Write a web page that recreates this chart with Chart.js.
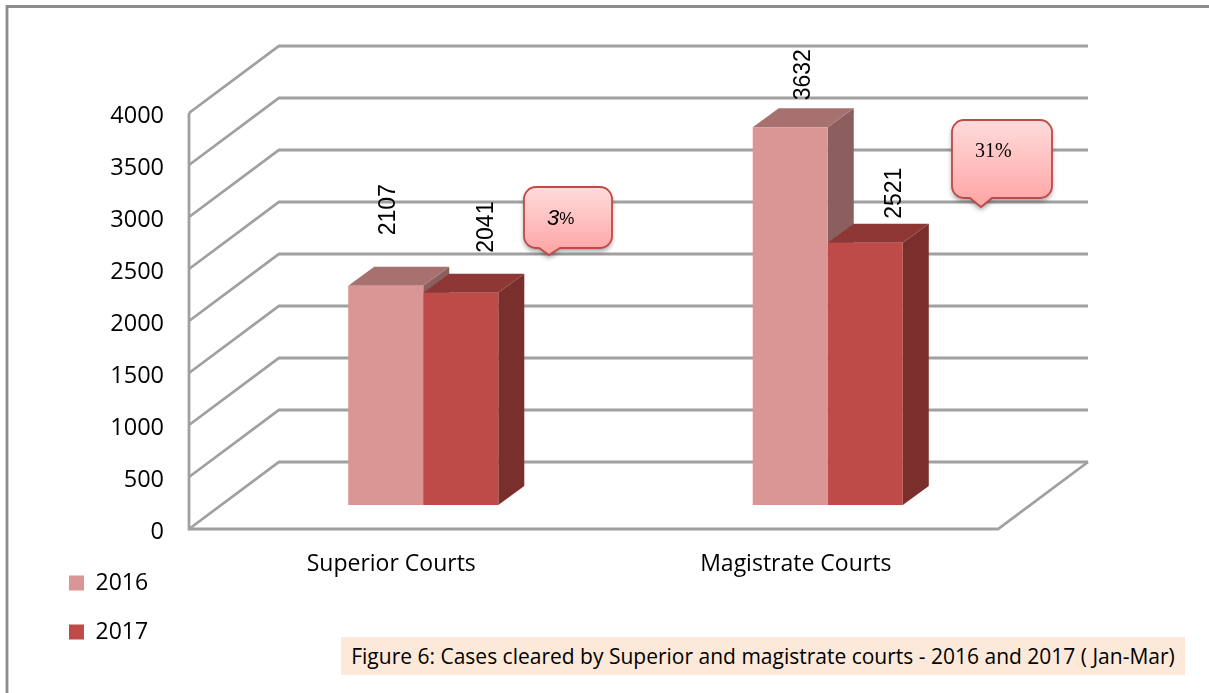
<!DOCTYPE html>
<html><head><meta charset="utf-8">
<style>
html,body{margin:0;padding:0;background:#fff;overflow:hidden}
#wrap{position:relative;width:1209px;height:693px}
canvas{position:absolute;left:0;top:0}
#caption{position:absolute;left:341px;top:637px;width:844px;height:38px;background:#FDE9D9;color:#000;font:21px "Open Sans",sans-serif;line-height:39px;text-align:center;white-space:nowrap}
</style></head><body>
<div id="wrap"><canvas id="c" width="1209" height="693"></canvas>
<div id="caption">Figure 6: Cases cleared by Superior and magistrate courts - 2016 and 2017 ( Jan-Mar)</div></div>
<script src="https://cdn.jsdelivr.net/npm/chart.js@4"></script>
<script>
const categories = ["Superior Courts", "Magistrate Courts"];
const series2016 = [2107, 3632];
const series2017 = [2041, 2521];
const yearLabels = ["2016", "2017"];
const yTicksStep = 500;
const callouts = [
  {parts:[{t:"3",f:'italic 22px "Liberation Sans"'},{t:"%",f:'17px "Liberation Sans"'}],x:524,y:187,w:88,h:61,tail:[539,560,549,255],tx:547,ty:219},
  {parts:[{t:"31%",f:'20px "Liberation Serif"'}],x:952,y:120,w:100,h:78,tail:[970,992,981,207],tx:975,ty:152}
];
const labelOffsets = [[[3,-50.5],[26,-40]],[[13,-27],[29,-24]]];
const WALL = {dx:90, dy:-67}, BAR_SHIFT = {dx:32, dy:-24}, DEPTH = {dx:26, dy:-19};
const styles = [{front:"#D99694",top:"#A6716F",side:"#8B5F5E"},{front:"#BE4B48",top:"#8F3735",side:"#7B2F2D"}];
const GRID = "#A0A0A0";
const FRAME = "#8C8C8C";
const font = '"Open Sans"';

const scene = {
  id:"scene",
  afterLayout(chart){
    const l = chart.legend; if(!l) return;
    l.left=43; l.top=545.5; l.right=200; l.bottom=900;
  },
  beforeDatasetsDraw(chart){
    const {ctx,scales:{y},chartArea:a} = chart;
    ctx.save();
    ctx.lineJoin="miter"; ctx.lineWidth=2.8;
    // page frame
    ctx.strokeStyle=FRAME;
    ctx.beginPath(); ctx.moveTo(7,693); ctx.lineTo(7,6.5); ctx.lineTo(1209,6.5); ctx.stroke();
    // walls
    ctx.strokeStyle=GRID;
    y.ticks.forEach(t=>{
      const py=y.getPixelForValue(t.value);
      ctx.beginPath(); ctx.moveTo(a.left,py); ctx.lineTo(a.left+WALL.dx,py+WALL.dy); ctx.lineTo(a.right+WALL.dx,py+WALL.dy); ctx.stroke();
    });
    ctx.beginPath(); ctx.moveTo(a.left,y.getPixelForValue(4000)); ctx.lineTo(a.left,a.bottom); ctx.lineTo(a.right,a.bottom); ctx.lineTo(a.right+WALL.dx,a.bottom+WALL.dy); ctx.stroke();
    // extrusions
    chart.data.datasets.forEach((d,i)=>{
      chart.getDatasetMeta(i).data.forEach(b=>{
        const L=b.x-b.width/2+BAR_SHIFT.dx,R=b.x+b.width/2+BAR_SHIFT.dx,T=b.y+BAR_SHIFT.dy,B=b.base+BAR_SHIFT.dy;
        ctx.fillStyle=styles[i].side;
        ctx.beginPath();ctx.moveTo(R,T);ctx.lineTo(R+DEPTH.dx,T+DEPTH.dy);ctx.lineTo(R+DEPTH.dx,B+DEPTH.dy);ctx.lineTo(R,B);ctx.closePath();ctx.fill();
        ctx.fillStyle=styles[i].top;
        ctx.beginPath();ctx.moveTo(L,T);ctx.lineTo(L+DEPTH.dx,T+DEPTH.dy);ctx.lineTo(R+DEPTH.dx,T+DEPTH.dy);ctx.lineTo(R,T);ctx.closePath();ctx.fill();
      });
    });
    ctx.restore();
    ctx.save(); ctx.translate(BAR_SHIFT.dx,BAR_SHIFT.dy);
  },
  afterDatasetsDraw(chart){
    const {ctx}=chart;
    ctx.restore();
    // value labels
    ctx.save();
    ctx.fillStyle="#000"; ctx.font='23px "Liberation Sans"'; ctx.textAlign="left"; ctx.textBaseline="middle";
    chart.data.datasets.forEach((d,i)=>{
      chart.getDatasetMeta(i).data.forEach((b,j)=>{
        const o=labelOffsets[j][i];
        ctx.save();
        ctx.translate(b.x+BAR_SHIFT.dx+o[0],b.y+BAR_SHIFT.dy+o[1]);
        ctx.rotate(-Math.PI/2);
        ctx.fillText(String(d.data[j]),0,0);
        ctx.restore();
      });
    });
    ctx.restore();
    // callouts
    callouts.forEach(c=>{
      const r=12,{x,y,w,h}=c,[t1,t2,tx,ty]=c.tail,b=y+h;
      ctx.save();
      const path=()=>{ctx.beginPath();ctx.moveTo(x+r,y);ctx.lineTo(x+w-r,y);ctx.arcTo(x+w,y,x+w,y+r,r);ctx.lineTo(x+w,b-r);ctx.arcTo(x+w,b,x+w-r,b,r);ctx.lineTo(t2,b);ctx.lineTo(tx,ty);ctx.lineTo(t1,b);ctx.lineTo(x+r,b);ctx.arcTo(x,b,x,b-r,r);ctx.lineTo(x,y+r);ctx.arcTo(x,y,x+r,y,r);ctx.closePath();};
      const g=ctx.createLinearGradient(0,y,0,b);
      g.addColorStop(0,"#FFDBDB");g.addColorStop(1,"#FFA9A9");
      ctx.shadowColor="rgba(0,0,0,0.4)";ctx.shadowBlur=5;ctx.shadowOffsetY=3;
      ctx.fillStyle=g;path();ctx.fill();
      ctx.shadowColor="transparent";
      ctx.strokeStyle="#BE4B48";ctx.lineWidth=1.8;path();ctx.stroke();
      ctx.fillStyle="#000";ctx.textBaseline="middle";ctx.textAlign="left";
      let cx=c.tx;
      c.parts.forEach(p=>{ctx.font=p.f;ctx.fillText(p.t,cx,c.ty);cx+=ctx.measureText(p.t).width;});
      ctx.restore();
    });
  }
};

new Chart(document.getElementById("c"),{
  type:"bar",
  data:{labels:categories,datasets:[
    {label:yearLabels[0],data:series2016,backgroundColor:styles[0].front,clip:false},
    {label:yearLabels[1],data:series2017,backgroundColor:styles[1].front,clip:false}
  ]},
  plugins:[scene],
  options:{
    responsive:false,animation:false,
    layout:{padding:{left:0,right:211,top:113,bottom:0}},
    datasets:{bar:{categoryPercentage:0.371,barPercentage:1}},
    plugins:{
      title:{display:false},tooltip:{enabled:false},
      legend:{position:"chartArea",align:"start",labels:{boxWidth:15,boxHeight:15,padding:26,color:"#000",font:{family:font,size:23}}}
    },
    scales:{
      x:{grid:{display:false},border:{display:false},
        ticks:{color:"#000",padding:14,maxRotation:0,font:{family:font,size:23}},
        afterFit(s){s.height=164;}},
      y:{min:0,max:4000,grid:{display:false},border:{display:false},
        ticks:{stepSize:yTicksStep,color:"#000",padding:17,labelOffset:3,callback:v=>String(v),font:{family:font,size:23.5}},
        afterFit(s){s.width=189;}}
    }
  }
});
</script></body></html>
